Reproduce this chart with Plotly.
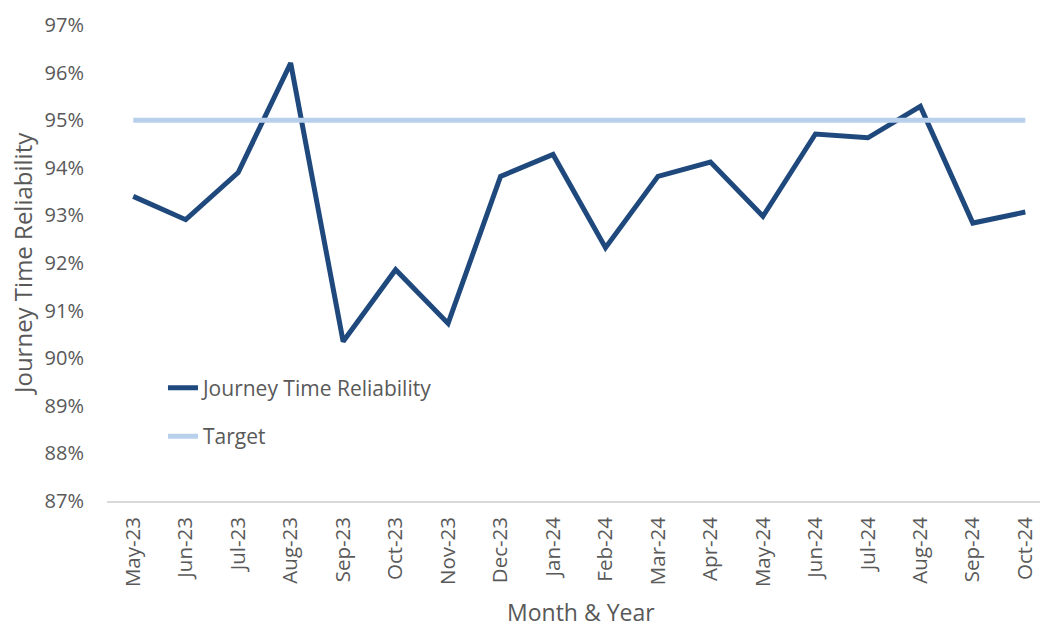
import plotly.graph_objects as go

months = ["May-23", "Jun-23", "Jul-23", "Aug-23", "Sep-23", "Oct-23", "Nov-23", "Dec-23",
          "Jan-24", "Feb-24", "Mar-24", "Apr-24", "May-24", "Jun-24", "Jul-24", "Aug-24",
          "Sep-24", "Oct-24"]
jtr = [0.9340, 0.9291, 0.9390, 0.9620, 0.9035, 0.9186, 0.9073, 0.9382,
       0.9428, 0.9232, 0.9382, 0.9412, 0.9298, 0.9471, 0.9463, 0.9529,
       0.9284, 0.9307]
target = [0.95] * len(months)
y_ticks = [0.87, 0.88, 0.89, 0.90, 0.91, 0.92, 0.93, 0.94, 0.95, 0.96, 0.97]

FONT = "'Open Sans', Lato, sans-serif"
GREY = "#595959"

fig = go.Figure()
fig.add_trace(go.Scatter(x=months, y=jtr, mode="lines", name="Journey Time Reliability",
                         legendgroup="a",
                         line=dict(color="#1F497D", width=5, shape="linear")))
fig.add_trace(go.Scatter(x=months, y=target, mode="lines", name="Target",
                         legendgroup="b",
                         line=dict(color="#B8D0EC", width=5)))

fig.update_layout(
    width=1040, height=628,
    margin=dict(l=107, r=0, t=25, b=127),
    paper_bgcolor="white", plot_bgcolor="white",
    font=dict(family=FONT, color=GREY, size=20),
    showlegend=True,
    legend=dict(x=0.06, y=0.28, xanchor="left", yanchor="top",
                bgcolor="rgba(0,0,0,0)", font=dict(size=21, color=GREY, family=FONT),
                tracegroupgap=18),
    xaxis=dict(type="category", range=[-0.5, 17.28], showgrid=False, automargin=False,
               showline=True, linecolor="#D9D9D9", linewidth=1.5,
               ticks="", tickangle=-90, tickfont=dict(size=20.5, color=GREY, family=FONT),
               ticklabelstandoff=6),
    yaxis=dict(range=[0.87, 0.97], tickvals=y_ticks, tickformat=".0%", automargin=False,
               showgrid=False, zeroline=False, showline=False, ticks="",
               tickfont=dict(size=20, color=GREY, family=FONT), ticklabelstandoff=22),
    annotations=[
        dict(text="Month & Year", xref="paper", yref="paper", x=(581 - 107) / 933,
             y=(501 - 612) / 476,
             xanchor="center", yanchor="middle", showarrow=False,
             font=dict(size=23, color=GREY, family=FONT)),
        dict(text="Journey Time Reliability", xref="paper", yref="paper",
             x=(22 - 107) / 933, y=(501 - 264) / 476, textangle=-90,
             xanchor="center", yanchor="middle", showarrow=False,
             font=dict(size=24, color=GREY, family=FONT)),
    ],
)

fig.write_html("out.html", config={"displayModeBar": False},
               post_script="document.body.style.margin='0';")
